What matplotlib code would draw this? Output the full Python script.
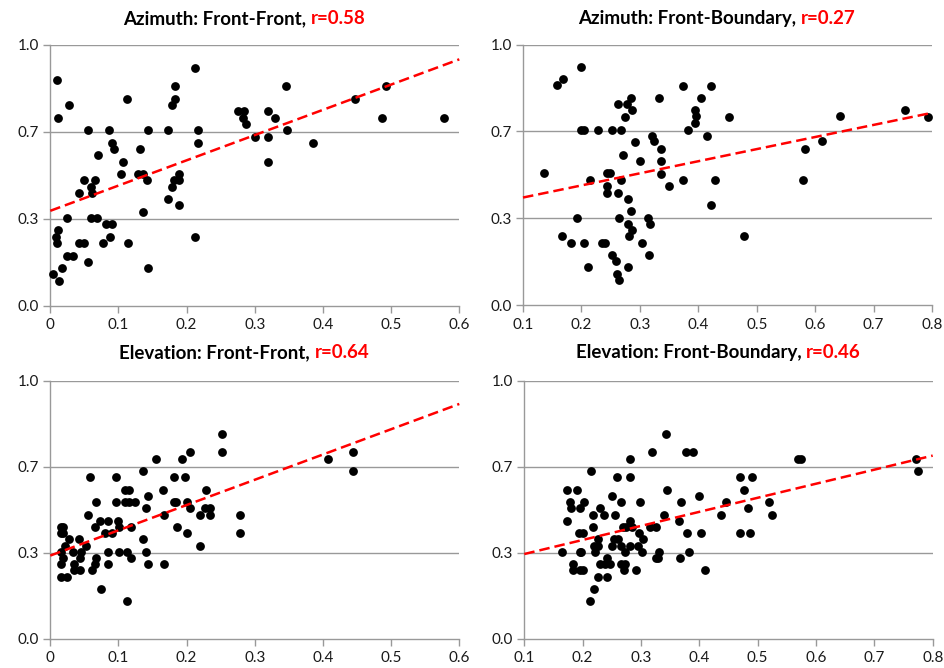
import matplotlib
matplotlib.use("Agg")
import matplotlib.pyplot as plt
import numpy as np

plt.rcParams['font.family'] = ['Lato', 'DejaVu Sans']

# ---------------- data ----------------
az_ff_x = [0.010, 0.012, 0.027, 0.009, 0.010, 0.011, 0.004, 0.013, 0.017, 0.024, 0.033, 0.024,
           0.042, 0.042, 0.050, 0.049, 0.056, 0.056, 0.059, 0.061, 0.065, 0.059, 0.068, 0.070,
           0.078, 0.081, 0.090, 0.086, 0.087, 0.090, 0.093, 0.103, 0.107, 0.112, 0.114, 0.128,
           0.132, 0.136, 0.136, 0.142, 0.143, 0.143, 0.173, 0.173, 0.179, 0.183, 0.183, 0.179,
           0.181, 0.189, 0.189, 0.189, 0.213, 0.213, 0.217, 0.216, 0.275, 0.284, 0.282, 0.287,
           0.300, 0.320, 0.329, 0.320, 0.320, 0.346, 0.347, 0.385, 0.447, 0.486, 0.492, 0.577]
az_ff_y = [0.866, 0.721, 0.769, 0.265, 0.240, 0.289, 0.120, 0.096, 0.145, 0.192, 0.192, 0.336,
           0.434, 0.240, 0.240, 0.481, 0.168, 0.673, 0.457, 0.434, 0.481, 0.336, 0.336, 0.577,
           0.240, 0.313, 0.313, 0.673, 0.265, 0.625, 0.601, 0.505, 0.552, 0.793, 0.240, 0.505,
           0.601, 0.505, 0.361, 0.481, 0.673, 0.145, 0.673, 0.409, 0.769, 0.793, 0.841, 0.457,
           0.481, 0.505, 0.481, 0.385, 0.913, 0.265, 0.673, 0.625, 0.746, 0.746, 0.721, 0.697,
           0.648, 0.746, 0.721, 0.648, 0.552, 0.841, 0.673, 0.625, 0.793, 0.721, 0.841, 0.721]

az_fb_x = [0.200, 0.168, 0.158, 0.136, 0.166, 0.183, 0.193, 0.205, 0.211, 0.214, 0.200, 0.204,
           0.229, 0.252, 0.267, 0.235, 0.240, 0.243, 0.249, 0.244, 0.244, 0.252, 0.259, 0.261,
           0.265, 0.263, 0.264, 0.267, 0.263, 0.272, 0.275, 0.278, 0.285, 0.287, 0.279, 0.285,
           0.279, 0.287, 0.282, 0.279, 0.292, 0.301, 0.304, 0.314, 0.317, 0.316, 0.321, 0.324,
           0.336, 0.336, 0.337, 0.333, 0.350, 0.373, 0.373, 0.382, 0.395, 0.396, 0.395, 0.405,
           0.415, 0.422, 0.422, 0.429, 0.453, 0.478, 0.580, 0.583, 0.611, 0.642, 0.753, 0.793]
az_fb_y = [0.914, 0.868, 0.844, 0.508, 0.265, 0.240, 0.335, 0.240, 0.145, 0.481, 0.673, 0.673,
           0.673, 0.673, 0.673, 0.240, 0.240, 0.508, 0.508, 0.458, 0.432, 0.192, 0.171, 0.120,
           0.096, 0.432, 0.335, 0.481, 0.770, 0.577, 0.721, 0.770, 0.793, 0.748, 0.408, 0.361,
           0.313, 0.289, 0.265, 0.145, 0.625, 0.552, 0.240, 0.336, 0.313, 0.192, 0.650, 0.628,
           0.601, 0.555, 0.505, 0.793, 0.457, 0.841, 0.481, 0.673, 0.748, 0.724, 0.697, 0.793,
           0.650, 0.841, 0.385, 0.481, 0.721, 0.265, 0.481, 0.601, 0.628, 0.724, 0.748, 0.721]

el_ff_x = [0.015, 0.019, 0.015, 0.019, 0.015, 0.019, 0.015, 0.015, 0.025, 0.022, 0.028, 0.034,
           0.035, 0.035, 0.044, 0.042, 0.043, 0.045, 0.053, 0.056, 0.058, 0.061, 0.066, 0.067,
           0.066, 0.067, 0.073, 0.074, 0.080, 0.085, 0.085, 0.085, 0.090, 0.096, 0.096, 0.099,
           0.101, 0.101, 0.110, 0.116, 0.110, 0.116, 0.124, 0.112, 0.112, 0.119, 0.118, 0.136,
           0.136, 0.140, 0.140, 0.144, 0.144, 0.155, 0.166, 0.167, 0.167, 0.182, 0.182, 0.185,
           0.186, 0.193, 0.197, 0.201, 0.201, 0.205, 0.205, 0.220, 0.220, 0.228, 0.227, 0.235,
           0.235, 0.252, 0.252, 0.278, 0.278, 0.407, 0.444, 0.444]
el_ff_y = [0.435, 0.435, 0.410, 0.410, 0.338, 0.314, 0.290, 0.241, 0.241, 0.361, 0.386, 0.338,
           0.290, 0.266, 0.266, 0.386, 0.314, 0.338, 0.361, 0.481, 0.626, 0.266, 0.290, 0.314,
           0.434, 0.530, 0.458, 0.194, 0.410, 0.458, 0.338, 0.290, 0.410, 0.626, 0.530, 0.458,
           0.435, 0.338, 0.578, 0.578, 0.530, 0.530, 0.530, 0.338, 0.146, 0.314, 0.435, 0.650,
           0.386, 0.507, 0.338, 0.554, 0.290, 0.698, 0.578, 0.481, 0.290, 0.626, 0.530, 0.530,
           0.434, 0.698, 0.626, 0.530, 0.410, 0.723, 0.507, 0.481, 0.361, 0.578, 0.507, 0.507,
           0.481, 0.795, 0.723, 0.481, 0.410, 0.698, 0.723, 0.650]

el_fb_x = [0.165, 0.173, 0.174, 0.179, 0.180, 0.183, 0.184, 0.191, 0.193, 0.195, 0.195, 0.198,
           0.196, 0.201, 0.201, 0.203, 0.213, 0.215, 0.217, 0.218, 0.219, 0.220, 0.226, 0.221,
           0.226, 0.226, 0.229, 0.229, 0.237, 0.238, 0.241, 0.242, 0.247, 0.250, 0.251, 0.255,
           0.253, 0.260, 0.259, 0.265, 0.265, 0.266, 0.272, 0.271, 0.269, 0.274, 0.272, 0.281,
           0.282, 0.282, 0.285, 0.281, 0.292, 0.297, 0.298, 0.295, 0.301, 0.304, 0.316, 0.325,
           0.319, 0.326, 0.330, 0.331, 0.339, 0.343, 0.345, 0.366, 0.368, 0.367, 0.377, 0.389,
           0.379, 0.382, 0.400, 0.403, 0.410, 0.437, 0.446, 0.470, 0.469, 0.477, 0.484, 0.486,
           0.490, 0.519, 0.525, 0.569, 0.574, 0.771, 0.775]
el_fb_y = [0.338, 0.458, 0.578, 0.530, 0.507, 0.290, 0.266, 0.578, 0.410, 0.507, 0.338, 0.338,
           0.266, 0.266, 0.410, 0.530, 0.146, 0.650, 0.481, 0.435, 0.194, 0.361, 0.361, 0.338,
           0.386, 0.241, 0.507, 0.290, 0.481, 0.290, 0.241, 0.314, 0.290, 0.361, 0.554, 0.481,
           0.386, 0.386, 0.626, 0.530, 0.361, 0.290, 0.290, 0.266, 0.435, 0.435, 0.338, 0.698,
           0.626, 0.458, 0.435, 0.361, 0.266, 0.410, 0.530, 0.361, 0.338, 0.386, 0.435, 0.435,
           0.723, 0.314, 0.314, 0.338, 0.481, 0.795, 0.578, 0.458, 0.530, 0.314, 0.723, 0.723,
           0.410, 0.338, 0.554, 0.410, 0.266, 0.481, 0.530, 0.626, 0.410, 0.578, 0.507, 0.410,
           0.626, 0.530, 0.481, 0.698, 0.698, 0.698, 0.650]

titles = ["Azimuth: Front-Front, ", "Azimuth: Front-Boundary, ",
          "Elevation: Front-Front, ", "Elevation: Front-Boundary, "]
r_labels = ["r=0.58", "r=0.27", "r=0.64", "r=0.46"]

x_ranges = [(0.0, 0.6), (0.1, 0.8), (0.0, 0.6), (0.1, 0.8)]
x_tick_vals = [[0, 0.1, 0.2, 0.3, 0.4, 0.5, 0.6], [0.1, 0.2, 0.3, 0.4, 0.5, 0.6, 0.7, 0.8],
               [0, 0.1, 0.2, 0.3, 0.4, 0.5, 0.6], [0.1, 0.2, 0.3, 0.4, 0.5, 0.6, 0.7, 0.8]]
x_tick_labels = [["0", "0.1", "0.2", "0.3", "0.4", "0.5", "0.6"],
                 ["0.1", "0.2", "0.3", "0.4", "0.5", "0.6", "0.7", "0.8"],
                 ["0", "0.1", "0.2", "0.3", "0.4", "0.5", "0.6"],
                 ["0.1", "0.2", "0.3", "0.4", "0.5", "0.6", "0.7", "0.8"]]
y_tick_vals = [0.0, 1 / 3, 2 / 3, 1.0]
y_tick_labels = ["0.0", "0.3", "0.7", "1.0"]

# trend line values at the left and right end of each x range
trend_left = [0.364, 0.413, 0.323, 0.329]
trend_right = [0.945, 0.738, 0.910, 0.710]

xs = [az_ff_x, az_fb_x, el_ff_x, el_fb_x]
ys = [az_ff_y, az_fb_y, el_ff_y, el_fb_y]

# ---------------- layout ----------------
W, H = 944, 668
fig = plt.figure(figsize=(W / 100, H / 100), dpi=100)
fig.patch.set_facecolor('white')

# axes boxes in pixels: left, right, top, bottom
boxes = [(50.3, 459.3, 45.0, 305.7), (523.0, 932.0, 44.5, 305.2),
         (50.3, 459.3, 380.7, 639.0), (524.3, 932.7, 380.7, 639.0)]
title_y = [18.5, 18.5, 352.5, 352.5]

grid_col = '#999999'
axes = []
for i in range(4):
    l, r, t, b = boxes[i]
    ax = fig.add_axes([l / W, 1 - b / H, (r - l) / W, (b - t) / H])
    axes.append(ax)
    ax.set_xlim(*x_ranges[i])
    ax.set_ylim(0, 1)
    for s in ['top', 'right']:
        ax.spines[s].set_visible(False)
    for s in ['left', 'bottom']:
        ax.spines[s].set_color(grid_col)
        ax.spines[s].set_linewidth(1.0)
    ax.set_yticks(y_tick_vals)
    ax.set_yticklabels(y_tick_labels)
    ax.set_xticks(x_tick_vals[i])
    ax.set_xticklabels(x_tick_labels[i])
    ax.tick_params(axis='both', colors=grid_col, labelcolor='#1a1a1a', labelsize=11,
                   length=5, width=1.0, direction='out')
    ax.tick_params(axis='y', pad=3)
    ax.tick_params(axis='x', pad=4)
    for yv in y_tick_vals[1:]:
        ax.axhline(yv, color=grid_col, lw=1.0, zorder=1)
    ax.scatter(xs[i], ys[i], s=40, color='black', zorder=3, clip_on=False, linewidths=0)
    x0, x1 = x_ranges[i]
    ax.plot([x0, x1], [trend_left[i], trend_right[i]], color='#ff0000', lw=1.8,
            ls=(0, (4.2, 2.0)), zorder=4, clip_on=False)

# two-colour titles
fig.canvas.draw()
renderer = fig.canvas.get_renderer()
for i in range(4):
    l, r, t, b = boxes[i]
    cx = (l + r) / 2 - 10.5
    cy = 1 - title_y[i] / H
    t1 = fig.text(0, cy, titles[i], fontsize=13.5, fontweight='bold', color='black',
                  va='center', ha='left')
    t2 = fig.text(0, cy, r_labels[i], fontsize=13.5, fontweight='bold', color='#ff0000',
                  va='center', ha='left')
    w1 = t1.get_window_extent(renderer).width
    w2 = t2.get_window_extent(renderer).width
    start = cx - (w1 + w2) / 2
    t1.set_x(start / W)
    t2.set_x((start + w1) / W)

fig.savefig('out.png', dpi=100, facecolor='white')
